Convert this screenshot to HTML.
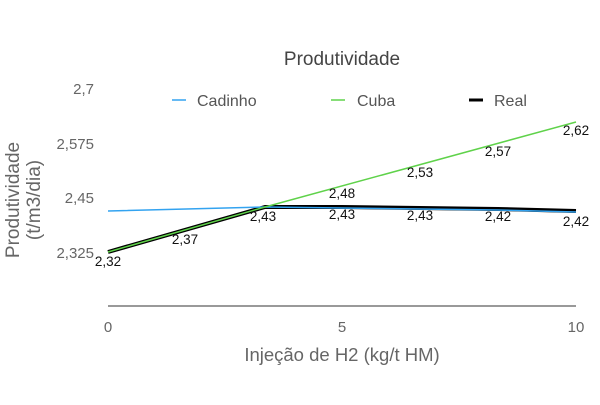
<!DOCTYPE html>
<html><head><meta charset="utf-8"><style>
body{margin:0;background:#fff}
svg text{font-family:"Liberation Sans",Arial,sans-serif}
</style></head><body>
<svg width="600" height="400" xmlns="http://www.w3.org/2000/svg">
<rect width="600" height="400" fill="#fff"/>
<text x="342" y="65" text-anchor="middle" font-size="19" fill="#444">Produtividade</text>
<g font-size="15" fill="#666" text-anchor="end">
<text x="94" y="94">2,7</text>
<text x="94" y="149">2,575</text>
<text x="94" y="203">2,45</text>
<text x="94" y="258">2,325</text>
</g>
<g font-size="15" fill="#666" text-anchor="middle">
<text x="108" y="332">0</text>
<text x="342" y="332">5</text>
<text x="576" y="332">10</text>
</g>
<text x="342" y="361" text-anchor="middle" font-size="18.5" fill="#666">Injeção de H2 (kg/t HM)</text>
<g transform="translate(0,200) rotate(-90)" font-size="19" fill="#666" text-anchor="middle">
<text x="0" y="19">Produtividade</text>
<text x="0" y="40">(t/m3/dia)</text>
</g>
<line x1="108" y1="306" x2="576" y2="306" stroke="#333" stroke-width="1"/>
<line x1="172" y1="100" x2="186" y2="100" stroke="#33a3f0" stroke-width="1.5"/>
<text x="197" y="106" font-size="16" fill="#555">Cadinho</text>
<line x1="331" y1="100" x2="345" y2="100" stroke="#5fd24a" stroke-width="1.5"/>
<text x="357" y="106" font-size="16" fill="#555">Cuba</text>
<line x1="469" y1="100" x2="483" y2="100" stroke="#000" stroke-width="3"/>
<text x="494" y="106" font-size="16" fill="#555">Real</text>
<polyline points="108,252 265,207 342,207 420,208 498,209 576,211" fill="none" stroke="#000" stroke-width="4"/>
<polyline points="108,211 265,207 342,208 420,209 498,210 576,212" fill="none" stroke="#33a3f0" stroke-width="1.5"/>
<polyline points="108,252 265,207 576,122" fill="none" stroke="#5fd24a" stroke-width="1.5"/>
<g font-size="13.5" fill="#111" text-anchor="middle">
<text x="108" y="266">2,32</text>
<text x="185" y="244">2,37</text>
<text x="263" y="221">2,43</text>
<text x="342" y="198">2,48</text>
<text x="342" y="219">2,43</text>
<text x="420" y="177">2,53</text>
<text x="420" y="220">2,43</text>
<text x="498" y="156">2,57</text>
<text x="498" y="221">2,42</text>
<text x="576" y="135">2,62</text>
<text x="576" y="226">2,42</text>
</g>
</svg>
</body></html>
